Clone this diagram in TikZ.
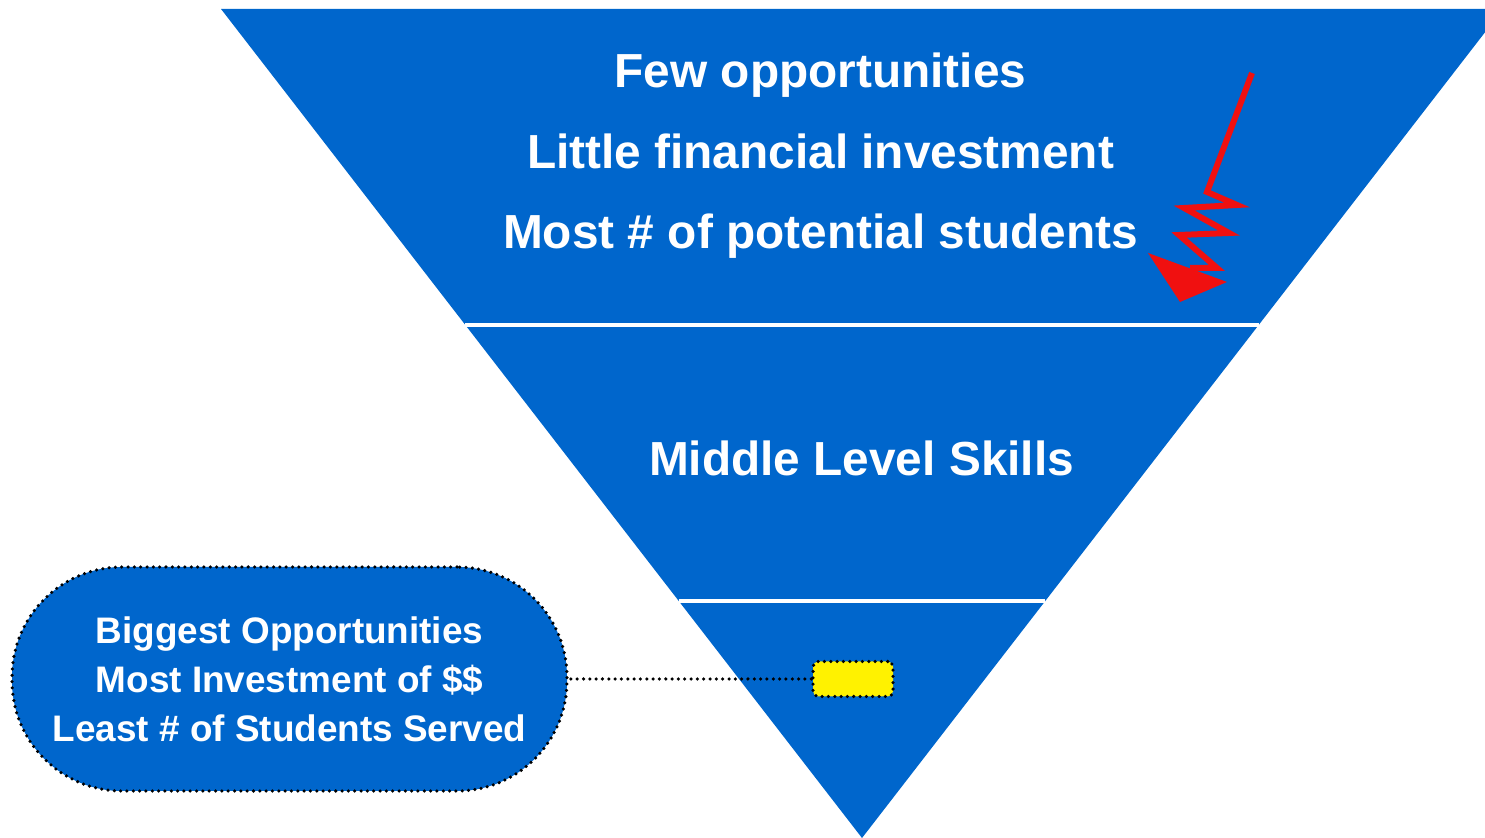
\documentclass[tikz,border=0pt]{standalone}
\usepackage{fontspec}
\setmainfont{Liberation Sans}
\usetikzlibrary{positioning,calc}
\definecolor{pyrblue}{RGB}{0,102,204}
\definecolor{boltred}{RGB}{240,16,16}

\begin{document}
\begin{tikzpicture}[
  lbl/.style={text=white,font=\bfseries\fontsize{13.6}{22.9}\selectfont,align=center},
  small/.style={text=white,font=\bfseries\fontsize{10.5}{13.9}\selectfont,align=center},
  dots/.style={dash pattern=on 0pt off 1.8pt,line cap=round,line width=1pt},
  divider/.style={white,line width=1pt}]
  \useasboundingbox (0,0) rectangle (14.85,8.38);
  \clip (0,0) rectangle (14.85,8.38);
  \coordinate (apex) at (8.62,0);
  \coordinate (tl) at (2.21,8.29);
  \coordinate (tr) at (15.03,8.29);
  \fill[pyrblue] (apex) -- (tl) -- (tr) -- cycle;
  % dividers
  \draw[divider] ($(apex)!0.619!(tl)$) -- ($(apex)!0.619!(tr)$);
  \draw[divider] ($(apex)!0.286!(tl)$) -- ($(apex)!0.286!(tr)$);
  \node[lbl] (top) at (8.205,6.82)
   {Few opportunities\\Little financial investment\\Most \# of potential students};
  \node[lbl] (mid) at (8.615,3.80) {Middle Level Skills};
  % lightning arrow
  \draw[boltred,line width=1.7pt,line join=miter] (12.52,7.65) -- (12.07,6.46)
   -- (12.37,6.33) -- (11.84,6.30) -- (12.29,6.05) -- (11.79,6.03)
   -- (12.17,5.70) -- (11.90,5.70);
  \fill[boltred] (11.48,5.85) -- (12.27,5.56) -- (11.80,5.36) -- cycle;
  % callout
  \node[draw=black,dots,fill=pyrblue,rounded corners=1.1cm,
   minimum width=5.55cm,minimum height=2.24cm,small] (note) at (2.895,1.59)
   {Biggest Opportunities\\Most Investment of \$\$\\Least \# of Students Served};
  \node[draw=black,dots,fill=yellow,rounded corners=1.5pt,
   minimum width=0.8cm,minimum height=0.35cm,inner sep=0pt] (mark) at (8.53,1.59) {};
  \draw[dots] (mark.west) -- (note.east);
\end{tikzpicture}
\end{document}
